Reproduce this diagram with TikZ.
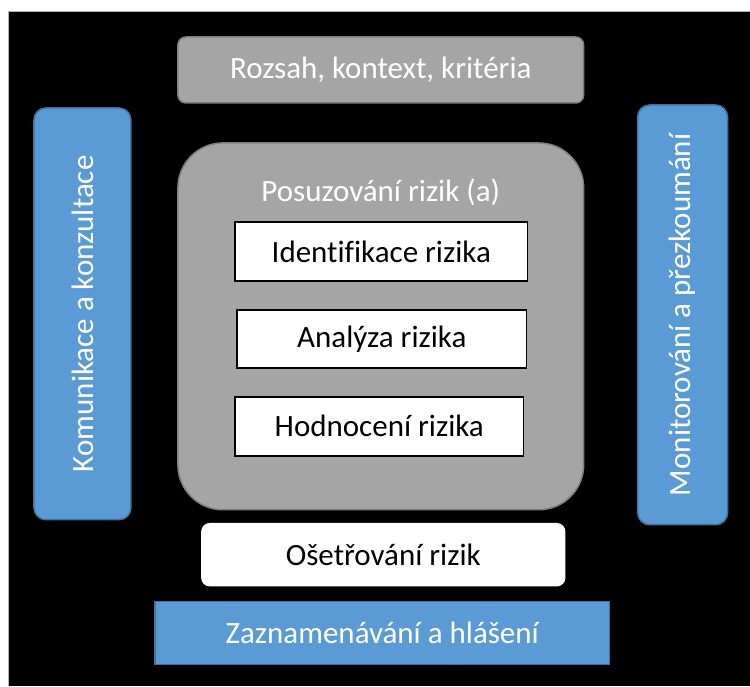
\documentclass[tikz,border=0pt]{standalone}
\usepackage{fontspec}
\setmainfont[Ligatures={NoCommon}]{Carlito}
\definecolor{panelblue}{HTML}{5B9BD5}
\definecolor{panelblueedge}{HTML}{41719C}
\definecolor{panelgray}{HTML}{A5A5A5}
\definecolor{panelgrayedge}{HTML}{7F7F7F}
\tikzset{
  box/.style={draw, line width=1.5pt, minimum width=#1, inner sep=0pt, font=\fontsize{31}{36}\selectfont},
  bluebox/.style={fill=panelblue, draw=panelblueedge, text=white},
  graybox/.style={fill=panelgray, draw=panelgrayedge, text=white},
  stagebox/.style={fill=white, draw=black, text=black},
}
\begin{document}
\begin{tikzpicture}[x=1pt, y=-1pt]
  % page and dark backdrop
  \fill[white] (0,0) rectangle (750,686);
  \fill[black] (8,11) rectangle (750,686);
  \draw[gray!60, line width=0.8pt] (8,686) -- (8,11) -- (750,11);
  \useasboundingbox (0,0) rectangle (750,686);

  % top bar
  \node[box=406pt, graybox, minimum height=66pt, rounded corners=8pt] (scope) at (381,70) {Rozsah, kontext, kritéria};

  % side bars
  \node[box=412pt, bluebox, minimum height=97pt, rounded corners=12pt, rotate=90] (comm) at (82.5,314) {Komunikace a konzultace};
  \node[box=420pt, bluebox, minimum height=90pt, rounded corners=12pt, rotate=90] (monit) at (683,315) {Monitorování a přezkoumání};

  % assessment block
  \node[box=406pt, graybox, minimum height=367pt, rounded corners=45pt] (assess) at (381,326.5) {};
  \node[font=\fontsize{31}{36}\selectfont, text=white] (assesslbl) at (381,192) {Posuzování rizik (a)};
  \node[box=293pt, stagebox, minimum height=59pt] (ident) at (381.5,251.5) {Identifikace rizika};
  \node[box=290pt, stagebox, minimum height=58pt] (anal) at (382,339) {Analýza rizika};
  \node[box=289pt, stagebox, minimum height=59pt] (eval) at (379.5,426.5) {Hodnocení rizika};

  % treatment and recording
  \node[box=363pt, stagebox, draw=white, minimum height=62pt, rounded corners=8pt] (treat) at (383.5,555) {Ošetřování rizik};
  \node[box=455pt, bluebox, minimum height=63pt] (record) at (382.5,633.5) {Zaznamenávání a hlášení};
\end{tikzpicture}
\end{document}
